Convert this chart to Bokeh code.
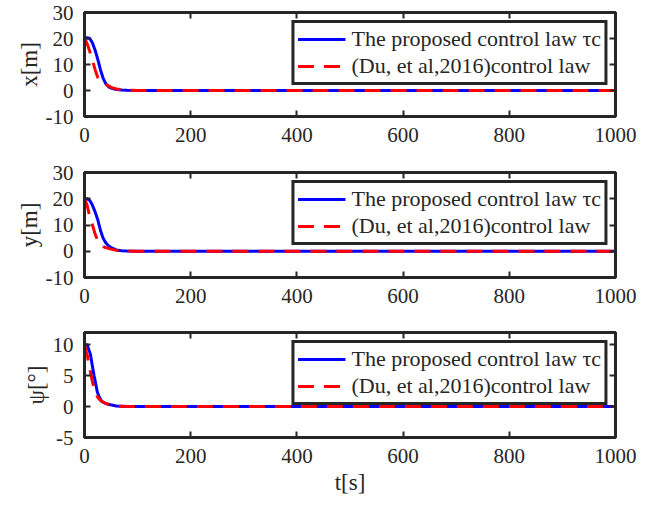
from bokeh.plotting import figure
from bokeh.layouts import column
from bokeh.models import LinearAxis, FixedTicker, Range1d
from bokeh.embed import file_html
from bokeh.resources import INLINE

# ---------------- data ----------------
t_x_prop = [0, 5, 10, 15, 20, 25, 30, 35, 40, 45, 50, 60, 70, 80, 100, 1000]
x_prop = [20, 20.3, 20, 18.3, 15.5, 12, 8, 4.8, 2.6, 1.5, 0.9, 0.4, 0.2, 0.08, 0, 0]
t_x_du = [0, 5, 10, 15, 20, 25, 30, 35, 40, 45, 50, 60, 70, 80, 100, 1000]
x_du = [20, 18, 15, 11.5, 8, 5, 3.5, 2.8, 2.3, 1.8, 1.2, 0.6, 0.3, 0.1, 0, 0]

t_y_prop = [0, 5, 10, 15, 20, 25, 30, 35, 40, 45, 50, 60, 70, 80, 100, 1000]
y_prop = [20, 20, 19.3, 17.5, 15, 12, 8, 5, 3.2, 2.1, 1.4, 0.5, 0.2, 0.05, 0, 0]
t_y_du = [0, 5, 8, 10, 15, 20, 25, 30, 35, 40, 50, 60, 70, 100, 1000]
y_du = [20, 17.5, 14.8, 13.5, 10, 6.5, 4, 2.5, 1.8, 1.4, 0.8, 0.4, 0.15, 0, 0]

t_psi_prop = [0, 5, 11, 15, 18, 20, 24, 28, 33, 40, 49, 60, 80, 1000]
psi_prop = [10, 10, 8.5, 6.5, 5, 4.2, 2.4, 1.5, 0.8, 0.5, 0.3, 0.1, 0, 0]
t_psi_du = [0, 5, 8, 11, 15, 20, 25, 30, 40, 50, 60, 80, 1000]
psi_du = [10, 8.4, 7, 5.7, 4, 2.4, 1.5, 1.0, 0.5, 0.2, 0.1, 0, 0]

x_ticks = [0, 200, 400, 600, 800, 1000]
xy_ticks = [-10, 0, 10, 20, 30]
xy_tick_labels = ["-10", "0", "10", "20", "30"]
psi_ticks = [-5, 0, 5, 10]
psi_tick_labels = ["-5", "0", "5", "10"]

label_prop = "The proposed control law \u03c4c"
label_du = "(Du, et al,2016)control law"

FONT = "'Liberation Serif', 'Times New Roman', serif"
DARK = "#262626"


def make_panel(t1, v1, t2, v2, yrange, yticks, ylabels, ylabel, height, bottom, xlabel=None):
    p = figure(width=656, height=height, output_backend="svg", toolbar_location=None,
               x_range=Range1d(0, 1000), y_range=Range1d(*yrange),
               min_border_left=84, min_border_right=41, min_border_top=12,
               min_border_bottom=bottom)
    p.xgrid.visible = False
    p.ygrid.visible = False
    p.outline_line_color = DARK
    p.outline_line_width = 3
    p.outline_line_alpha = 1

    p.line(t1, v1, color="#0000FF", line_width=3, legend_label=label_prop)
    p.line(t2, v2, color="#FF0000", line_width=3, line_dash="16 10", legend_label=label_du)

    # extra top/right axes with ticks only (labels not drawn)
    p.add_layout(LinearAxis(), "right")
    p.add_layout(LinearAxis(), "above")

    for ax in p.xaxis:
        ax.ticker = FixedTicker(ticks=x_ticks)
    for ax in p.yaxis:
        ax.ticker = FixedTicker(ticks=yticks)
        ax.major_label_overrides = {t: s for t, s in zip(yticks, ylabels)}

    for ax in p.axis:
        ax.axis_line_color = DARK
        ax.axis_line_width = 3
        ax.major_tick_line_color = DARK
        ax.major_tick_line_width = 2
        ax.major_tick_in = 6
        ax.major_tick_out = 0
        ax.minor_tick_line_color = None
        ax.major_label_text_font = FONT
        ax.major_label_text_font_size = "21px"
        ax.major_label_text_color = DARK
        ax.major_label_standoff = 11
        ax.axis_label_text_font = FONT
        ax.axis_label_text_font_style = "normal"
        ax.axis_label_text_font_size = "23px"
        ax.axis_label_text_color = DARK

    for ax in (p.right[0], p.above[0]):
        ax.major_label_text_color = None
        ax.major_label_text_font_size = "6px"
        ax.major_label_standoff = 0

    p.left[0].axis_label = ylabel
    p.left[0].axis_label_standoff = 1
    if xlabel:
        p.below[0].axis_label = xlabel
        p.below[0].axis_label_standoff = 4

    lg = p.legend[0]
    lg.location = "top_right"
    lg.margin = 8
    lg.padding = 3
    lg.spacing = 1
    lg.border_line_color = DARK
    lg.border_line_width = 3
    lg.border_line_alpha = 1
    lg.background_fill_color = "white"
    lg.background_fill_alpha = 1
    lg.label_text_font = FONT
    lg.label_text_font_size = "22px"
    lg.label_text_color = DARK
    lg.glyph_width = 48
    lg.glyph_height = 26
    lg.label_height = 26
    lg.label_standoff = 6
    return p


p1 = make_panel(t_x_prop, x_prop, t_x_du, x_du, (-10, 30), xy_ticks, xy_tick_labels, "x[m]", 160, 44)
p2 = make_panel(t_y_prop, y_prop, t_y_du, y_du, (-10, 30), xy_ticks, xy_tick_labels, "y[m]", 160, 43)
p3 = make_panel(t_psi_prop, psi_prop, t_psi_du, psi_du, (-5, 12), psi_ticks, psi_tick_labels,
                "\u03c8[\u00b0]", 188, 71, "t[s]")

layout = column(p1, p2, p3, spacing=0)
open("out.html", "w").write(file_html(layout, INLINE))
